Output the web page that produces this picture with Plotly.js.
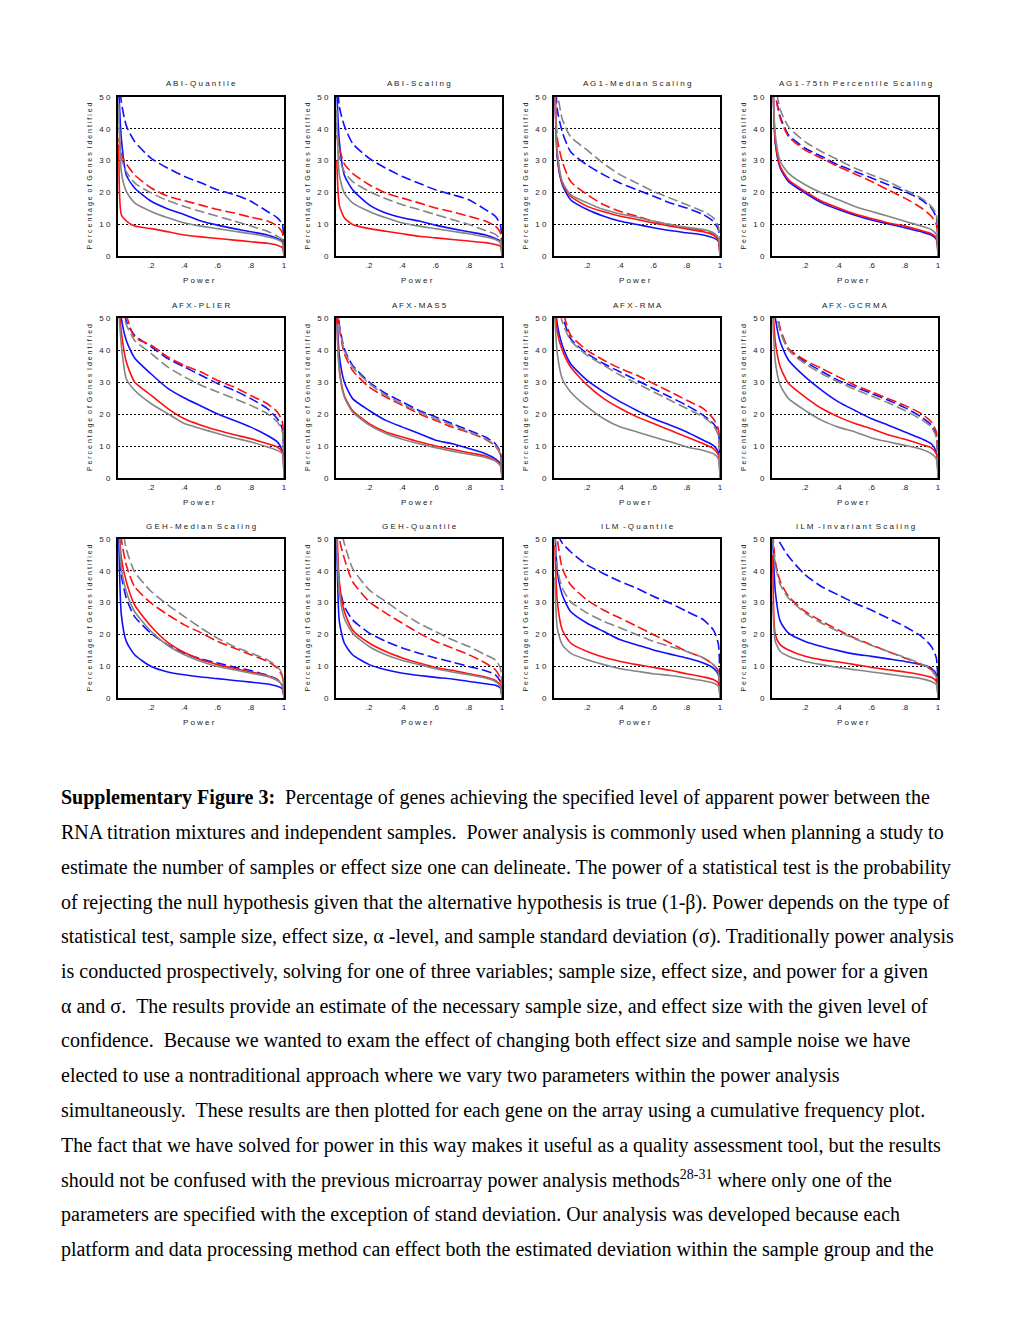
<!DOCTYPE html>
<html><head><meta charset="utf-8">
<script src="https://cdn.plot.ly/plotly-3.0.1.min.js"></script>
<style>html,body{margin:0;padding:0;background:#fff}#chart{width:1020px;height:1320px}</style>
</head><body><div id="chart"></div>
<script>
// ---------- DATA ----------
const power = [0.005, 0.02, 0.05, 0.1, 0.2, 0.3, 0.4, 0.5, 0.6, 0.7, 0.8, 0.9, 0.96, 0.99, 1.0];
const seriesOrder = ['blueDash', 'blueSolid', 'redDash', 'redSolid', 'grayDash', 'graySolid'];
const panelTitles = [
  'A B I - Q u a n t i l e', 'A B I - S c a l i n g', 'A G 1 - M e d i a n  S c a l i n g', 'A G 1 - 7 5 t h  P e r c e n t i l e  S c a l i n g',
  'A F X - P L I E R', 'A F X - M A S 5', 'A F X - R M A', 'A F X - G C R M A',
  'G E H - M e d i a n  S c a l i n g', 'G E H - Q u a n t i l e', 'I L M  - Q u a n t i l e', 'I L M  - I n v a r i a n t  S c a l i n g'
];
const yTickVals = [0, 10, 20, 30, 40, 50];
const yTickText = ['0', '1 0', '2 0', '3 0', '4 0', '5 0'];
const xTickVals = [0.2, 0.4, 0.6, 0.8, 1];
const xTickText = ['.2', '.4', '.6', '.8', '1'];
const xTitle = 'P o w e r';
const yTitle = 'P e r c e n t a g e  o f  G e n e s  I d e n t i f i e d';

// each panel: [blueDash, blueSolid, redDash, redSolid, grayDash, graySolid]
const abiQuantile = [
  [60, 48.4, 41, 36, 30.7, 27.6, 25, 23, 20.8, 19.3, 17.2, 14, 12, 9.9, 0],
  [52, 37, 25.5, 21.4, 17.2, 14.8, 13, 11, 9.7, 8.6, 7.6, 6.6, 5.5, 4.7, 0],
  [37, 31.8, 29, 25.5, 21.4, 18.8, 17.4, 16, 14.6, 13.5, 12.2, 11, 9.4, 7.3, 0],
  [35, 13, 11, 9.4, 8.6, 7.6, 6.6, 6, 5.5, 5, 4.5, 4, 3.4, 2.6, 0],
  [45, 30.7, 26.5, 23, 19.8, 17.4, 15.6, 14, 12.5, 11, 9.4, 7.8, 6.2, 5.2, 0],
  [48, 26.5, 20.3, 16.7, 14, 12, 10.4, 9.4, 8.6, 7.8, 7, 6, 5.2, 4.2, 0]
];
const abiScaling = [
  [60, 47, 41, 35.4, 30.7, 27.6, 25, 22.9, 20.8, 19.3, 17.7, 14.6, 12.5, 9.9, 0],
  [52, 36, 25.5, 20.8, 16.1, 13.5, 12, 11, 9.7, 8.6, 7.6, 6.6, 5.5, 4.7, 0],
  [38, 33.8, 29, 26, 22.4, 19.8, 18.2, 16.7, 15.1, 13.9, 12.5, 11, 9.4, 7.3, 0],
  [30, 16, 12, 9.9, 8.6, 7.8, 7, 6.2, 5.7, 5.2, 4.7, 4.2, 3.6, 3.1, 0],
  [42, 30.7, 26.5, 23.4, 20.3, 18, 16.1, 14.6, 13, 11.5, 9.9, 8, 6.8, 5.2, 0],
  [46, 25.5, 19.8, 16.7, 14, 12, 10.4, 9.4, 8.6, 7.8, 7, 6, 5.2, 4.2, 0]
];
const ag1Median = [
  [60, 46, 39, 32.8, 28.6, 25.5, 22.9, 20.8, 18.8, 16.7, 15.1, 13, 10.9, 8.3, 0],
  [55, 30.7, 22.4, 17.7, 14.6, 12.5, 10.9, 9.9, 8.9, 8, 7.3, 6.6, 5.7, 4.7, 0],
  [55, 37, 29.7, 23.4, 19.3, 16.1, 14, 12.5, 10.9, 9.9, 8.9, 7.8, 6.8, 5.2, 0],
  [55, 31.8, 22.9, 18.8, 15.6, 13.9, 12.5, 11.5, 10.4, 9.4, 8.5, 7.6, 6.6, 5, 0],
  [62, 52, 43, 37.5, 33.3, 29, 25.5, 22.9, 20.3, 18.2, 16.1, 14, 12, 9.4, 0],
  [55, 32.8, 23.4, 19.3, 16.7, 14.6, 13.2, 12.2, 10.9, 9.9, 9, 8.3, 7.3, 5.7, 0]
];
const ag175th = [
  [62, 51, 43.8, 38, 33.9, 31.3, 28.6, 26.6, 24.5, 22.4, 20.3, 17.7, 15.1, 12, 0],
  [58, 35.4, 27.6, 23.4, 19.8, 16.7, 14.6, 12.8, 11.3, 10.1, 8.9, 7.6, 6.6, 5.2, 0],
  [62, 51, 43.2, 37.5, 33.3, 30.7, 28.1, 25.8, 23.4, 20.8, 18.2, 15.1, 12.5, 9.9, 0],
  [58, 36, 28.1, 24, 20.3, 17.2, 15.1, 13.2, 11.8, 10.4, 9.4, 8, 7, 5.7, 0],
  [64, 54, 46, 40.6, 35.9, 32.8, 30.2, 27.6, 25.5, 23.4, 20.8, 18.2, 15.6, 13, 0],
  [56, 38, 29.7, 26, 22.4, 19.8, 17.7, 15.6, 14, 12.5, 10.9, 9.4, 8.3, 6.8, 0]
];
const afxPlier = [
  [64, 57, 49, 44.6, 41, 37.3, 34.7, 32.1, 29.5, 27.4, 24.8, 21.7, 18.5, 15.4, 0],
  [58, 50, 43, 37.5, 32.5, 28, 25, 22.5, 20, 18, 15.9, 13.3, 11.3, 8.6, 0],
  [64, 58, 51, 44, 41.5, 37.8, 35.2, 33.1, 30.5, 28.4, 25.8, 23.2, 20.6, 17.5, 0],
  [55, 45.6, 36.3, 30, 25.8, 21.7, 18.5, 16.5, 14.9, 13.5, 12.3, 10.7, 9.7, 8.1, 0],
  [62, 55, 48, 43, 38.9, 34.7, 31.6, 29, 26.9, 24.8, 22.7, 20.1, 17.5, 14.4, 0],
  [52, 41.5, 31, 27.4, 23.2, 20.1, 17, 15.4, 13.9, 12.5, 11.3, 9.7, 8.6, 7.6, 0]
];
const afxMas5 = [
  [58, 48, 40.4, 35.2, 30, 26.4, 23.8, 21.1, 19.1, 17, 14.9, 12.8, 10.7, 8.1, 0],
  [52, 38.3, 30, 24.8, 21.1, 18, 15.9, 13.9, 11.8, 10.7, 9.2, 7.6, 6, 4.5, 0],
  [56, 47, 38.9, 33.6, 28.4, 25.3, 22.7, 20.1, 18, 15.9, 14.2, 12.1, 10, 7.3, 0],
  [50, 34.2, 25.8, 21.1, 17, 14.4, 12.8, 11.3, 10, 9, 7.9, 6.9, 5.5, 4, 0],
  [57, 47.5, 39.9, 34.7, 29.5, 25.8, 23.2, 20.6, 18.5, 16.5, 14.4, 12.3, 10.2, 7.6, 0],
  [48, 33.1, 25.3, 20.6, 16.5, 13.9, 12.1, 10.7, 9.5, 8.4, 7.4, 6.4, 5.3, 3.8, 0]
];
const afxRma = [
  [66, 58, 51, 43.5, 38.9, 35.7, 33.1, 30.5, 27.9, 25.3, 22.7, 19.6, 17, 14.4, 0],
  [56, 48, 41.5, 35.7, 30.5, 26.9, 23.8, 21.1, 18.5, 16.5, 14.4, 11.8, 10.2, 8.1, 0],
  [68, 60, 53, 44.6, 39.9, 36.8, 34.2, 32.1, 29.5, 26.9, 24.3, 21.7, 18.5, 15.4, 0],
  [54, 45.6, 39.9, 34.7, 29, 24.8, 21.7, 19.1, 17, 14.9, 12.8, 10.7, 9.2, 7.3, 0],
  [64, 56, 48.8, 43, 38.3, 35.2, 32.1, 29.5, 26.9, 24.3, 21.7, 19.1, 16.5, 13.3, 0],
  [50, 38.9, 31, 26.9, 22.2, 18.5, 15.9, 14.4, 12.8, 11.3, 9.7, 8.6, 7.6, 6, 0]
];
const afxGcrma = [
  [62, 54, 46.1, 40.2, 36.3, 33.3, 30.5, 28.4, 26.4, 24.3, 22, 19.1, 16.5, 13.3, 0],
  [58, 50, 42.5, 36.8, 31.6, 27.4, 23.8, 21.1, 18.5, 16.5, 14.4, 12.3, 10.7, 8.1, 0],
  [62, 54, 46.7, 40.4, 36.8, 34.2, 31.6, 29, 26.9, 24.8, 22.7, 20.1, 17.5, 14.4, 0],
  [54, 42.5, 34.7, 29.5, 25.3, 21.7, 19.1, 17, 15.4, 13.5, 12.1, 10.5, 9.4, 7.6, 0],
  [62, 54, 45.8, 39.9, 35.7, 32.6, 30, 27.7, 25.6, 23.5, 21.1, 18.3, 15.9, 12.8, 0],
  [50, 36.3, 29, 24.8, 21.1, 18, 15.9, 14.4, 12.5, 11.3, 10.2, 9, 7.6, 6, 0]
];
const gehMedian = [
  [52, 38.7, 31.4, 25.6, 20.3, 16.7, 14.1, 12.3, 11, 9.7, 8.6, 7.1, 5.8, 4.2, 0],
  [50, 26.2, 17.8, 13.6, 9.9, 8.2, 7.3, 6.6, 6.1, 5.5, 5, 4.4, 3.7, 2.9, 0],
  [60, 50, 41.8, 35, 29.8, 26.2, 23, 20.5, 17.8, 15.7, 13.6, 11.5, 9.4, 6.8, 0],
  [56, 44, 36.6, 29.3, 22.5, 17.5, 14.3, 12, 10.5, 9.3, 8.2, 7, 5.8, 3.7, 0],
  [64, 56, 46.9, 39.7, 33.5, 29.3, 25.6, 22, 18.8, 16.2, 14.1, 12, 9.9, 7.3, 0],
  [54, 40.8, 33.5, 27.2, 20.9, 16.5, 13.6, 11.5, 9.9, 8.9, 7.8, 6.8, 5.5, 4, 0]
];
const gehQuantile = [
  [50, 35.6, 28.8, 24.6, 20.4, 17.8, 15.7, 14.1, 12.6, 11.3, 9.9, 8.6, 7.3, 5.2, 0],
  [50, 24.1, 17.3, 13.6, 10.5, 8.9, 7.8, 7.1, 6.5, 6, 5.2, 4.5, 4, 3.1, 0],
  [58, 50, 43.9, 36.6, 30.3, 26.7, 23.5, 20.4, 17.8, 15.7, 13.6, 11, 8.9, 6.3, 0],
  [55, 36.6, 27.2, 21.4, 17.3, 14.6, 12.6, 11, 9.6, 8.7, 7.6, 6.6, 5.5, 4, 0],
  [64, 56, 48.6, 40.8, 34, 30.3, 26.7, 23.5, 20.9, 18.3, 16.2, 13.6, 12, 9.4, 0],
  [50, 33.5, 25.1, 20.4, 16.2, 13.6, 11.8, 10.5, 9.2, 8.2, 7.3, 6.3, 5.2, 3.7, 0]
];
const ilmQuantile = [
  [60, 52, 48.7, 46, 41.8, 39.1, 36.6, 34.5, 31.9, 29.8, 27.2, 24.6, 21.4, 17, 0],
  [54, 39.7, 32.4, 27.2, 23.5, 20.9, 18.3, 16.7, 15.1, 13.8, 12.6, 11, 9.4, 7.3, 0],
  [58, 50, 40.8, 35.6, 30.8, 27.6, 25.1, 22.5, 19.9, 17.3, 14.6, 12.6, 10.5, 8.4, 0],
  [48, 30.3, 21.4, 17.3, 14.6, 12.8, 11.5, 10.5, 9.6, 8.7, 7.6, 6.6, 5.8, 4.7, 0],
  [52, 40.8, 34.5, 30.3, 26.7, 24.1, 22, 19.9, 17.8, 16.2, 14.6, 12.6, 10.5, 7.8, 0],
  [38, 21.9, 16.7, 14.1, 12, 10.5, 9.2, 8.4, 7.6, 7.1, 6.3, 5.4, 4.7, 3.7, 0]
];
const ilmInvariant = [
  [62, 52, 48.6, 44.5, 38.7, 35, 32.4, 29.8, 27.6, 25.1, 22.5, 19.4, 16.2, 12.6, 0],
  [50, 33.5, 24.1, 20.4, 17.8, 16.2, 14.9, 13.8, 13.1, 12.3, 11.5, 10.5, 9.4, 7.3, 0],
  [52, 42.9, 36.6, 31.9, 27.2, 24.1, 21.4, 18.8, 16.7, 14.6, 12.6, 10.5, 8.9, 6.3, 0],
  [45, 19.9, 16.7, 15.1, 13.1, 12, 11.3, 10.5, 9.6, 8.9, 8.2, 7.3, 6.5, 5.2, 0],
  [50, 41.8, 35.6, 31.4, 26.7, 23.5, 20.9, 18.6, 16.5, 14.6, 12.8, 10.7, 9.1, 6.5, 0],
  [30, 17.8, 14.6, 13.1, 11.5, 10.5, 9.6, 8.9, 8.2, 7.5, 6.8, 6.1, 5.2, 4.2, 0]
];
const panels = [abiQuantile, abiScaling, ag1Median, ag175th, afxPlier, afxMas5, afxRma, afxGcrma, gehMedian, gehQuantile, ilmQuantile, ilmInvariant];

const captionLines = [
  '<b>Supplementary Figure 3:</b>\u00a0 Percentage of genes achieving the specified level of apparent power between the',
  'RNA titration mixtures and independent samples.\u00a0 Power analysis is commonly used when planning a study to',
  'estimate the number of samples or effect size one can delineate. The power of a statistical test is the probability',
  'of rejecting the null hypothesis given that the alternative hypothesis is true (1-β). Power depends on the type of',
  'statistical test, sample size, effect size, α -level, and sample standard deviation (σ). Traditionally power analysis',
  'is conducted prospectively, solving for one of three variables; sample size, effect size, and power for a given',
  'α and σ.\u00a0 The results provide an estimate of the necessary sample size, and effect size with the given level of',
  'confidence.\u00a0 Because we wanted to exam the effect of changing both effect size and sample noise we have',
  'elected to use a nontraditional approach where we vary two parameters within the power analysis',
  'simultaneously.\u00a0 These results are then plotted for each gene on the array using a cumulative frequency plot.',
  'The fact that we have solved for power in this way makes it useful as a quality assessment tool, but the results',
  'should not be confused with the previous microarray power analysis methods<sup>28-31</sup> where only one of the',
  'parameters are specified with the exception of stand deviation. Our analysis was developed because each',
  'platform and data processing method can effect both the estimated deviation within the sample group and the'
];

// ---------- STYLE / LAYOUT ----------
const W = 1020, H = 1320;
const styles = {
  blueDash:  {color: '#1010ff', dash: '10px,4px'},
  blueSolid: {color: '#1010ff', dash: 'solid'},
  redDash:   {color: '#ff1010', dash: '10px,4px'},
  redSolid:  {color: '#ff1010', dash: 'solid'},
  grayDash:  {color: '#858585', dash: '10px,4px'},
  graySolid: {color: '#858585', dash: 'solid'}
};
const colPx = [[118, 284], [336, 502], [554, 720], [772, 938]];
const rowPx = [[97, 256], [318, 478], [539, 698]];
const px = x => x / W;
const py = y => 1 - y / H;
const chartFont = 'Liberation Sans, Arial, sans-serif';

const traces = [];
const layout = {
  width: W, height: H, margin: {l: 0, r: 0, t: 0, b: 0},
  paper_bgcolor: '#fff', plot_bgcolor: '#fff', showlegend: false,
  font: {family: chartFont, size: 8, color: '#222'},
  annotations: []
};

panels.forEach((panel, i) => {
  const r = Math.floor(i / 4), c = i % 4;
  const n = i + 1;
  const xa = 'x' + (n === 1 ? '' : n), ya = 'y' + (n === 1 ? '' : n);
  seriesOrder.forEach((key, k) => {
    traces.push({
      type: 'scatter', mode: 'lines', x: power, y: panel[k], xaxis: xa, yaxis: ya,
      line: {color: styles[key].color, dash: styles[key].dash, width: 1.6, shape: 'spline', smoothing: 0.6},
      hoverinfo: 'skip'
    });
  });
  const [x0, x1] = colPx[c], [y0, y1] = rowPx[r];
  layout['xaxis' + (n === 1 ? '' : n)] = {
    domain: [px(x0), px(x1)], range: [0, 1], anchor: ya,
    tickvals: xTickVals, ticktext: xTickText, ticks: '', showgrid: false, zeroline: false,
    showline: true, mirror: true, linecolor: '#000', linewidth: 2,
    tickfont: {family: chartFont, size: 8, color: '#222'}, fixedrange: true
  };
  layout['yaxis' + (n === 1 ? '' : n)] = {
    domain: [py(y1), py(y0)], range: [0, 50], anchor: xa,
    tickvals: yTickVals, ticktext: yTickText, ticks: '', ticklabelstandoff: 4,
    showgrid: true, gridcolor: '#000', gridwidth: 1, griddash: '2px,2px', zeroline: false,
    showline: true, mirror: true, linecolor: '#000', linewidth: 2,
    tickfont: {family: chartFont, size: 8, color: '#222'}, fixedrange: true
  };
  const cx = (x0 + x1) / 2, cy = (y0 + y1) / 2;
  layout.annotations.push({text: panelTitles[i], x: px(cx), y: py(y0 - 13), xref: 'paper', yref: 'paper',
    xanchor: 'center', yanchor: 'middle', showarrow: false, font: {family: chartFont, size: 8, color: '#222'}});
  layout.annotations.push({text: xTitle, x: px(cx - 2), y: py(y1 + 24), xref: 'paper', yref: 'paper',
    xanchor: 'center', yanchor: 'middle', showarrow: false, font: {family: chartFont, size: 8, color: '#222'}});
  layout.annotations.push({text: yTitle, x: px(x0 - 28), y: py(cy), xref: 'paper', yref: 'paper', textangle: -90,
    xanchor: 'center', yanchor: 'middle', showarrow: false, font: {family: chartFont, size: 7, color: '#222'}});
});

const captionTop = 798, captionStep = 34.7;
captionLines.forEach((line, j) => {
  layout.annotations.push({text: line, x: px(59), y: py(captionTop + j * captionStep), xref: 'paper', yref: 'paper',
    xanchor: 'left', yanchor: 'middle', align: 'left', showarrow: false,
    font: {family: 'Liberation Serif, Times New Roman, serif', size: 20, color: '#000'}});
});

Plotly.newPlot('chart', traces, layout, {displayModeBar: false, staticPlot: true});
</script>
</body></html>
